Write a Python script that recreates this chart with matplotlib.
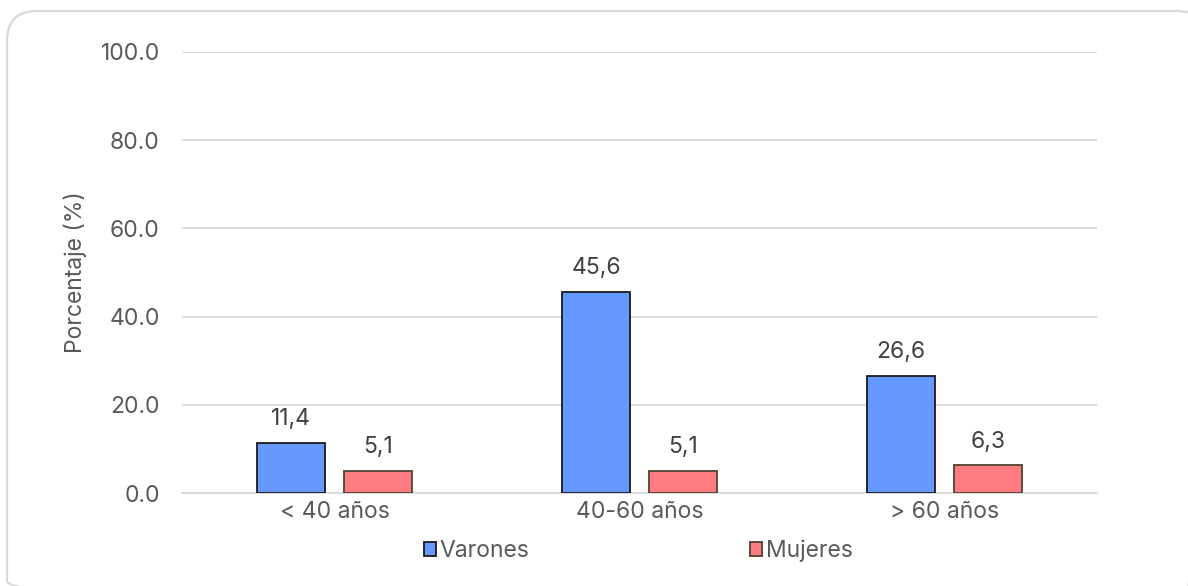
import matplotlib
matplotlib.use("Agg")
import matplotlib.pyplot as plt
from matplotlib.patches import FancyBboxPatch
import numpy as np

categories = ["< 40 años", "40-60 años", "> 60 años"]
varones = [11.4, 45.6, 26.6]
mujeres = [5.1, 5.1, 6.3]
series_names = ["Varones", "Mujeres"]
yticks = [0, 20, 40, 60, 80, 100]

plt.rcParams['font.family'] = ['Inter', 'DejaVu Sans']
txt = '#595959'
FS = 16.5

fig = plt.figure(figsize=(11.88, 5.86), dpi=100)
W, H = 1188, 586

# background axes in pixel coordinates for the rounded frame
bg = fig.add_axes([0, 0, 1, 1])
bg.set_xlim(0, W)
bg.set_ylim(H, 0)
bg.axis('off')
bg.add_patch(FancyBboxPatch((7, 11), 1200, 600,
                            boxstyle="round,pad=0,rounding_size=30",
                            fill=False, edgecolor='#d9d9d9', linewidth=1.6,
                            clip_on=False))

ax = fig.add_axes([182 / W, 1 - 493 / H, (1097 - 182) / W, (493 - 52) / H])
x = np.arange(len(categories))
bw = 0.223
off = 0.142
b1 = ax.bar(x - off, varones, bw, color='#6699ff', edgecolor='#1a1a1a', linewidth=1.3, label=series_names[0], zorder=3)
b2 = ax.bar(x + off, mujeres, bw, color='#ff7c80', edgecolor='#4d4433', linewidth=1.3, label=series_names[1], zorder=3)

for bars, vals in ((b1, varones), (b2, mujeres)):
    for r, v in zip(bars, vals):
        ax.annotate(f"{v:.1f}".replace('.', ','), (r.get_x() + r.get_width() / 2, v),
                    xytext=(0, 9), textcoords='offset points', ha='center', va='bottom',
                    fontsize=FS, color='#404040')

ax.set_xlim(-0.5, 2.5)
ax.set_ylim(0, 100)
ax.set_yticks(yticks)
ax.set_yticklabels([f"{t:.1f}" for t in yticks])
ax.set_xticks(x)
ax.set_xticklabels(categories)
ax.tick_params(axis='both', length=0, labelsize=FS, colors=txt)
ax.tick_params(axis='y', pad=16)
ax.tick_params(axis='x', pad=6)
ax.grid(axis='y', color='#d9d9d9', linewidth=1.3, zorder=0)
for s in ['top', 'right', 'left']:
    ax.spines[s].set_visible(False)
ax.spines['bottom'].set_color('#d9d9d9')
ax.spines['bottom'].set_linewidth(1.3)
ax.set_ylabel("Porcentaje (%)", fontsize=FS, color=txt, labelpad=10)

leg = fig.legend(handles=[b1, b2], labels=series_names, loc='center',
                 bbox_to_anchor=(638 / W, 1 - 551 / H), ncol=2, frameon=False,
                 fontsize=FS, handlelength=0.55, handleheight=0.55, handletextpad=0.15,
                 columnspacing=9.6, labelcolor=txt, borderpad=0)

fig.savefig("out.png", dpi=100)
